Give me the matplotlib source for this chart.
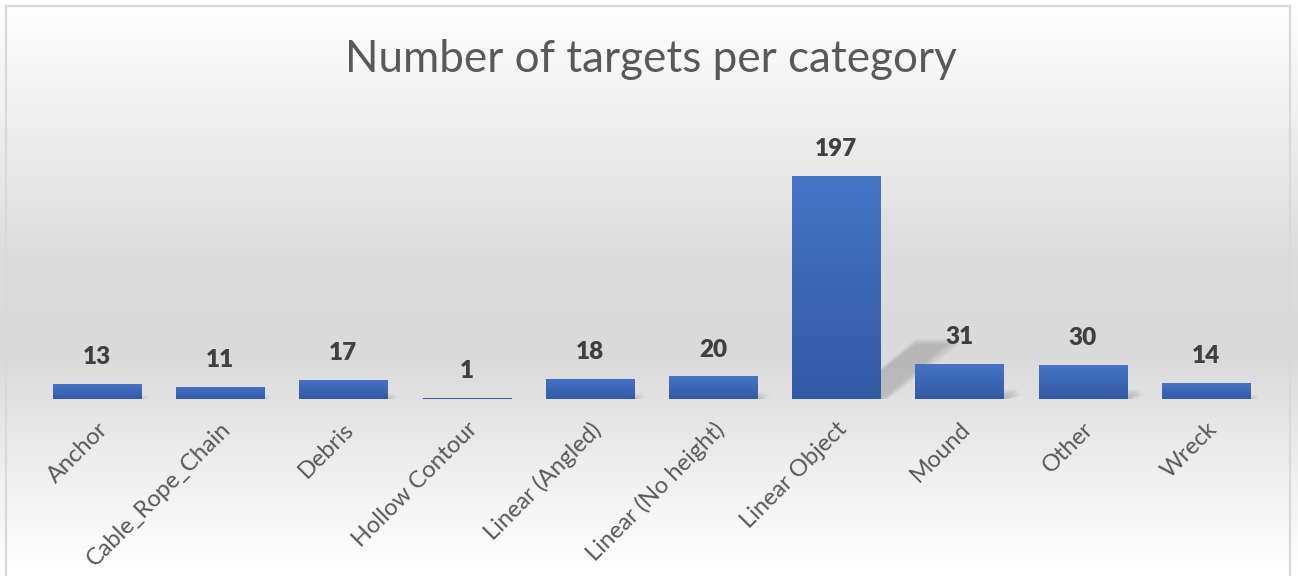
"""Number of targets per category - Excel-style column chart"""
import numpy as np
import matplotlib
matplotlib.use("Agg")
import matplotlib.pyplot as plt
from matplotlib.colors import LinearSegmentedColormap
from matplotlib.patches import Polygon, Rectangle

plt.rcParams["font.family"] = ["Lato", "DejaVu Sans"]

categories = ["Anchor", "Cable_Rope_Chain", "Debris", "Hollow Contour",
              "Linear (Angled)", "Linear (No height)", "Linear Object",
              "Mound", "Other", "Wreck"]
counts = [13, 11, 17, 1, 18, 20, 197, 31, 30, 14]
title = "Number of targets per category"

W, H, DPI = 1298, 576, 100
fig = plt.figure(figsize=(W / DPI, H / DPI), dpi=DPI)

# background gradient (white -> grey -> white), like the Excel chart area
bg = fig.add_axes([0, 0, 1, 1], zorder=-10)
bg.set_axis_off()
bg_cmap = LinearSegmentedColormap.from_list(
    "bg", [(0.0, "#ffffff"), (0.12, "#f6f6f6"), (0.45, "#dcdcdc"),
           (0.62, "#dadada"), (0.85, "#f2f2f2"), (1.0, "#ffffff")])
grad = np.linspace(0, 1, 256).reshape(-1, 1)
bg.imshow(grad, aspect="auto", cmap=bg_cmap, extent=[0, 1, 0, 1], origin="upper")
bg.set_xlim(0, 1); bg.set_ylim(0, 1)
bg.add_patch(Rectangle((6 / W, -0.01), (W - 8 - 6) / W, 1 - 6 / H + 0.01,
                       fill=False, ec="#d9d9d9", lw=1.6))

ax = fig.add_axes([35.4 / W, 177 / H, 1232.2 / W, 249 / H])
ax.patch.set_alpha(0)
x = np.arange(len(categories))
bars = ax.bar(x, counts, width=0.715, color="none", zorder=3)

bar_cmap = LinearSegmentedColormap.from_list("bar", ["#4674c6", "#3259a4"])
for b in bars:
    x0, w, h = b.get_x(), b.get_width(), b.get_height()
    # soft perspective shadow behind each bar (blurred by stacking)
    sh_h = h * 0.27
    skew = h * 0.0029
    for k in range(5):
        ex = 0.012 * k
        ey = 1.2 * k
        poly = Polygon([(x0 + w * 0.6, 0), (x0 + w + 0.02 + ex, 0),
                        (x0 + w + 0.02 + skew + ex, max(sh_h - ey, 0)),
                        (x0 + w * 0.6 + skew, max(sh_h - ey, 0))],
                       closed=True, fc="#5a5a5a", ec="none", alpha=0.06, zorder=1)
        ax.add_patch(poly)
    im = ax.imshow(grad, aspect="auto", cmap=bar_cmap, origin="upper",
                   extent=[x0, x0 + w, 0, max(h, 0.8)], zorder=3)
    im.set_clip_path(Rectangle((x0, 0), w, max(h, 1.3), transform=ax.transData))
    ax.text(b.get_x() + w / 2, h + 14, f"{int(h)}", ha="center", va="bottom",
            fontsize=17.5, fontweight="heavy", color="#404040", zorder=4)
ax.set_ylim(0, 220)
ax.set_xlim(-0.5, len(categories) - 0.5)

ax.set_xticks(x)
ax.set_xticklabels(categories, rotation=45, ha="right", rotation_mode="anchor",
                   fontsize=17, color="#595959")
ax.tick_params(axis="x", length=0, pad=14)
ax.set_yticks([])
for s in ax.spines.values():
    s.set_visible(False)

fig.text(651 / W, 1 - 72 / H, title, ha="center", va="baseline",
         fontsize=31.7, color="#595959")

fig.savefig("out.png", dpi=DPI)
